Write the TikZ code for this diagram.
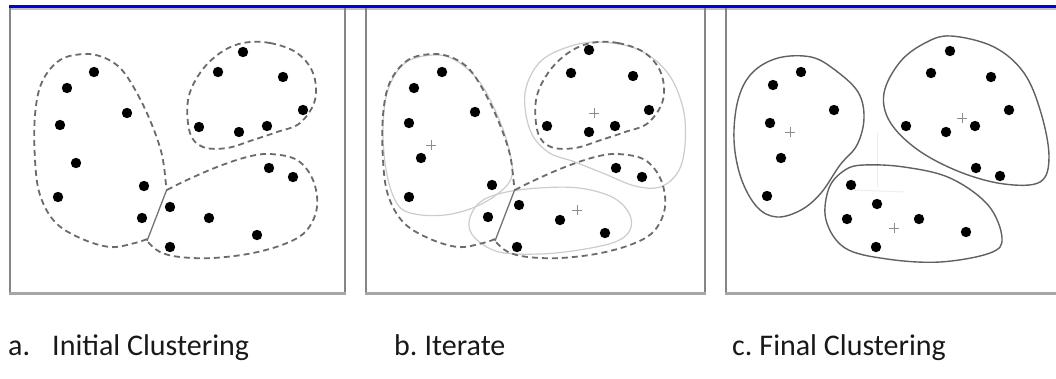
\documentclass[tikz,border=0pt]{standalone}
\usepackage{fontspec}
\setmainfont{Carlito}
\begin{document}
\begin{tikzpicture}[x=1pt,y=-1pt,
  dotc/.style={fill=black},
  oldline/.style={draw=black!58, line width=1.8pt, dash pattern=on 6pt off 4pt},
  divider/.style={draw=black!55, line width=1.3pt},
  newline/.style={draw=black!20, line width=1.2pt},
  finalline/.style={draw=black!62, line width=1.4pt},
  faint/.style={draw=black!7, line width=1pt},
  crossm/.style={draw=black!45, line width=0.9pt},
  framel/.style={draw=black!48, line width=2pt},
  lab/.style={font=\fontsize{30}{36}\selectfont, inner sep=0pt, anchor=base west, text=black!90}]
\useasboundingbox (0,0) rectangle (1056,378);
\fill[white] (0,0) rectangle (1056,378);
% top bar
\fill[blue!85!black] (9,5) rectangle (1056,8);
\fill[black!25] (9,8) rectangle (1056,9.5);
% frames
\draw[framel] (9.5,8) -- (9.5,294);
\draw[framel] (344.5,8) -- (344.5,294);
\draw[framel] (366,8) -- (366,294);
\draw[framel] (704.5,8) -- (704.5,294);
\draw[framel] (726,8) -- (726,294);
\draw[draw=black!35, line width=3pt] (9,293) -- (345.5,293);
\draw[draw=black!35, line width=3pt] (365,293) -- (705.5,293);
\draw[draw=black!35, line width=3pt] (725,293) -- (1056,293);
% old (initial) clusters, reused in panels a and b
\newcommand\oldclusters{%
  \draw[oldline] plot[smooth, tension=0.6] coordinates {(166,185) (162,155) (152,125) (138,95) (122,70) (105,58) (85,54) (60,60) (42,82) (35,115) (35,160) (40,195) (55,222) (80,238) (110,247) (135,243) (147,239)};
  \draw[oldline] plot[smooth cycle, tension=0.6] coordinates {(243,43) (270,43) (297,53) (313,73) (315,100) (300,123) (277,132) (253,140) (227,148) (203,147) (190,133) (188,100) (200,73) (220,53)};
  \draw[oldline] plot[smooth, tension=0.6] coordinates {(167,190) (187,180) (217,167) (247,157) (270,154) (297,160) (313,180) (317,207) (307,230) (287,243) (253,253) (213,258) (180,257) (160,252) (148,242)};
  \draw[divider] (147,241) -- (167,189);
}
% panel a
\oldclusters
\foreach \p in {(94,72),(67,88),(127,113),(60,125),(76,163),(58,197),(144,186),(142,218),(170,207),(170,247),(209,218),(257,235),(269,168),(293,177),(243,52),(218,72),(283,77),(303,110),(199,127),(239,132),(267,126)}
  \fill[dotc] \p circle (5.2);
% panel b
\draw[newline] plot[smooth cycle, tension=0.6] coordinates {(433,55) (455,60) (478,80) (495,110) (508,145) (512,175) (500,192) (475,207) (445,215) (415,214) (398,205) (387,175) (383,130) (388,90) (405,63)};
\draw[newline] plot[smooth cycle, tension=0.6] coordinates {(525,93) (539,63) (565,48) (597,42) (637,49) (667,72) (683,108) (685,145) (678,172) (660,187) (635,186) (605,174) (575,162) (548,152) (530,130)};
\draw[newline] plot[smooth cycle, tension=0.6] coordinates {(469,222) (479,203) (502,193) (539,188) (579,188) (612,197) (629,213) (630,230) (615,242) (579,250) (539,254) (499,252) (475,238)};
\begin{scope}[xshift=348pt]
\oldclusters
\end{scope}
\foreach \p in {(442,72),(414,88),(475,112),(409,123),(421,158),(409,197),(492,185),(488,217),(519,205),(517,247),(560,220),(605,233),(616,168),(642,177),(589,50),(571,73),(633,76),(649,110),(547,126),(589,132),(615,126)}
  \fill[dotc] \p circle (5.2);
\foreach \c in {(431,145),(594,113),(577,210)}
  \draw[crossm] \c ++(-5,0) -- ++(10,0) \c ++(0,-5) -- ++(0,10);
% panel c
\draw[faint] (877,133) -- (877,187);
\draw[faint] (854,190) -- (904,192);
\draw[finalline] plot[smooth cycle, tension=0.6] coordinates {(811,57) (835,70) (858,92) (864,118) (857,145) (840,165) (821,193) (801,210) (777,217) (757,207) (741,178) (734,140) (738,100) (752,73) (778,58)};
\draw[finalline] plot[smooth cycle, tension=0.6] coordinates {(951,36) (994,47) (1024,73) (1041,113) (1049,157) (1040,182) (1004,184) (960,172) (918,150) (890,122) (884,93) (900,62) (925,43)};
\draw[finalline] plot[smooth cycle, tension=0.6] coordinates {(864,165) (904,167) (950,178) (988,205) (1002,238) (990,253) (940,262) (887,259) (845,248) (826,220) (829,188) (845,170)};
\foreach \p in {(801,72),(773,85),(834,110),(770,123),(781,158),(767,196),(851,185),(847,219),(877,204),(876,247),(919,219),(966,232),(976,168),(1000,176),(950,51),(931,73),(991,77),(1009,110),(906,126),(946,132),(975,126)}
  \fill[dotc] \p circle (5.2);
\foreach \c in {(790,132),(962,118),(894,228)}
  \draw[crossm] \c ++(-5,0) -- ++(10,0) \c ++(0,-5) -- ++(0,10);
% captions
\node[lab] (capa) at (8,355) {a.};
\node[lab] (capa2) at (52,355) {Initial Clustering};
\node[lab] (capb) at (394,355) {b.\hspace{-2pt} Iterate};
\node[lab] (capc) at (732,355) {c.\hspace{-2pt} Final Clustering};
\end{tikzpicture}
\end{document}
